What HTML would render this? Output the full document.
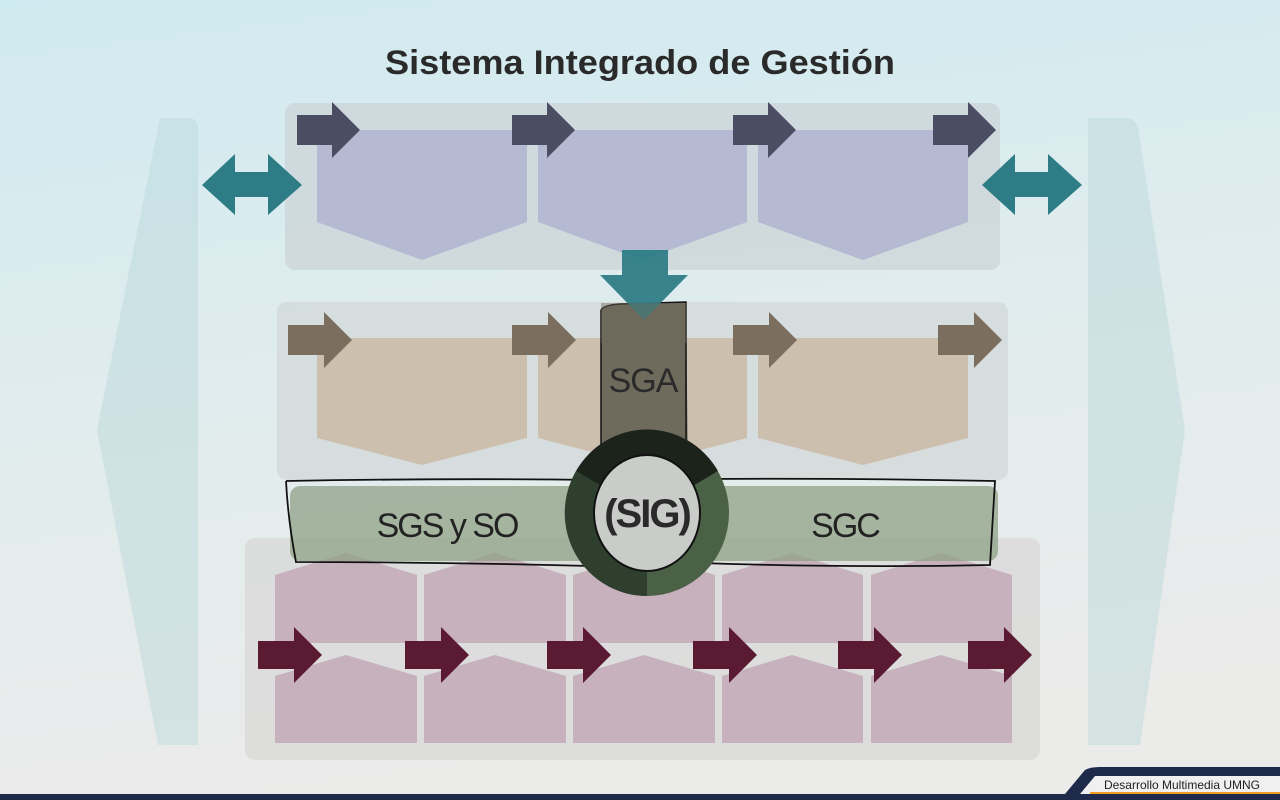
<!DOCTYPE html>
<html><head><meta charset="utf-8"><style>
html,body{margin:0;padding:0;width:1280px;height:800px;overflow:hidden}
svg{display:block}
</style></head><body>
<svg width="1280" height="800" viewBox="0 0 1280 800" xmlns="http://www.w3.org/2000/svg">
<defs>
<linearGradient id="bg" x1="0" y1="0" x2="0.2" y2="1">
<stop offset="0" stop-color="#cfeaf0"/>
<stop offset="0.45" stop-color="#dfecee"/>
<stop offset="1" stop-color="#ebebea"/>
</linearGradient>
</defs>
<rect width="1280" height="800" fill="url(#bg)"/>
<!-- side panels -->
<path d="M160,118 H188 Q198,118 198,128 V745 H158 L97,430 Z" fill="#b7d6da" opacity="0.45"/>
<path d="M1088,118 H1125 Q1135,118 1138,128 L1185,430 L1140,745 H1088 Z" fill="#b7d6da" opacity="0.45"/>
<text x="640" y="74" text-anchor="middle" font-family="Liberation Sans, sans-serif" font-weight="bold" font-size="34" fill="#2a2a2a" textLength="510" lengthAdjust="spacingAndGlyphs">Sistema Integrado de Gestión</text>
<!-- top band -->
<rect x="285" y="103" width="715" height="167" rx="10" fill="#c8cfd2" opacity="0.6"/>
<g fill="#b5b9d1">
<path d="M317,130 H527 V222 L422,260 L317,222 Z"/>
<path d="M538,130 H747 V222 L642,260 L538,222 Z"/>
<path d="M758,130 H968 V222 L863,260 L758,222 Z"/>
</g>
<g fill="#4b4d62">
<path d="M297,115 h35 v-13 l28,28 l-28,28 v-13 h-35 z"/>
<path d="M512,115 h35 v-13 l28,28 l-28,28 v-13 h-35 z"/>
<path d="M733,115 h35 v-13 l28,28 l-28,28 v-13 h-35 z"/>
<path d="M933,115 h35 v-13 l28,28 l-28,28 v-13 h-35 z"/>
</g>
<g fill="#2e7d86">
<path d="M202,185 L235,154 V172 H268 V154 L302,185 L268,215 V197 H235 V215 Z"/>
<path d="M982,185 L1015,154 V172 H1048 V154 L1082,185 L1048,215 V197 H1015 V215 Z"/>
</g>
<!-- middle band -->
<rect x="277" y="302" width="731" height="178" rx="10" fill="#cfd3d3" opacity="0.6"/>
<g fill="#cdbfae">
<path d="M317,338 H527 V438 L422,465 L317,438 Z"/>
<path d="M538,338 H747 V438 L642,465 L538,438 Z"/>
<path d="M758,338 H968 V438 L863,465 L758,438 Z"/>
</g>
<g fill="#7b6e5e">
<path d="M288,325 h36 v-13 l28,28 l-28,28 v-13 h-36 z"/>
<path d="M512,325 h36 v-13 l28,28 l-28,28 v-13 h-36 z"/>
<path d="M733,325 h36 v-13 l28,28 l-28,28 v-13 h-36 z"/>
<path d="M938,325 h36 v-13 l28,28 l-28,28 v-13 h-36 z"/>
</g>
<!-- SGA -->
<path d="M601,310 Q604,305 620,304 L686,302 L688,470 L601,470 Z" fill="#6e6a5c"/>
<path d="M601,310 Q604,305 620,304 L686,302 L686,470 M601,310 L601,470" fill="none" stroke="#111" stroke-width="1.5"/>
<path d="M622,250 H668 V275 H688 L644,320 L600,275 H622 Z" fill="#2e7d86" opacity="0.95"/>
<rect x="601" y="303" width="86" height="40" fill="#6e6a5c" opacity="0.45"/>
<text x="643" y="392" text-anchor="middle" font-family="Liberation Sans, sans-serif" font-size="34" fill="#2a2a2a" letter-spacing="-1">SGA</text>
<!-- bottom band -->
<rect x="245" y="538" width="795" height="222" rx="10" fill="#d7d7d5" opacity="0.7"/>
<g fill="#c6b1bd">
<path d="M275,575 L346,553 L417,575 V643 H275 Z"/>
<path d="M424,575 L495,553 L566,575 V643 H424 Z"/>
<path d="M573,575 L644,553 L715,575 V643 H573 Z"/>
<path d="M722,575 L792,553 L863,575 V643 H722 Z"/>
<path d="M871,575 L941,553 L1012,575 V643 H871 Z"/>
<path d="M275,676 L346,655 L417,676 V743 H275 Z"/>
<path d="M424,676 L495,655 L566,676 V743 H424 Z"/>
<path d="M573,676 L644,655 L715,676 V743 H573 Z"/>
<path d="M722,676 L792,655 L863,676 V743 H722 Z"/>
<path d="M871,676 L941,655 L1012,676 V743 H871 Z"/>
</g>
<g fill="#5a1a31">
<path d="M258,641 h36 v-14 l28,28 l-28,28 v-14 h-36 z"/>
<path d="M405,641 h36 v-14 l28,28 l-28,28 v-14 h-36 z"/>
<path d="M547,641 h36 v-14 l28,28 l-28,28 v-14 h-36 z"/>
<path d="M693,641 h36 v-14 l28,28 l-28,28 v-14 h-36 z"/>
<path d="M838,641 h36 v-14 l28,28 l-28,28 v-14 h-36 z"/>
<path d="M968,641 h36 v-14 l28,28 l-28,28 v-14 h-36 z"/>
</g>
<!-- green band -->
<rect x="290" y="486" width="708" height="75" rx="10" fill="#8fa185" opacity="0.75"/>
<path d="M286,481 Q450,478 600,480 M700,479 Q850,478 995,481 Q992,530 990,565 Q850,568 700,563 M590,566 Q440,562 296,562 Q288,520 286,481" fill="none" stroke="#111" stroke-width="1.8"/>
<text x="447" y="537" text-anchor="middle" font-family="Liberation Sans, sans-serif" font-size="34" fill="#222" letter-spacing="-2">SGS y SO</text>
<text x="845" y="537" text-anchor="middle" font-family="Liberation Sans, sans-serif" font-size="34" fill="#222" letter-spacing="-2">SGC</text>
<!-- SIG circle -->
<g transform="translate(647,513)">
<ellipse rx="82" ry="83" fill="#4a6146"/>
<path d="M0,0 L-71,-42 A82,83 0 0 1 71,-42 Z" fill="#1b231b"/>
<path d="M0,0 L-71,-42 A82,83 0 0 0 0,83 Z" fill="#2f3f2e"/>
<ellipse rx="53" ry="58" fill="#c9ccc8" stroke="#111" stroke-width="2"/>
<text x="0" y="14" text-anchor="middle" font-family="Liberation Sans, sans-serif" font-weight="bold" font-size="40" fill="#2a2a2a" letter-spacing="-2">(SIG)</text>
</g>
<!-- footer -->
<path d="M1060,800 L1085,770 Q1090,767 1100,767 H1280 V800 Z" fill="#1e2a4a"/>
<path d="M1075,800 L1095,776 H1280 V793 Z" fill="#f0f0f0"/>
<rect x="1090" y="792" width="190" height="3" fill="#f2a024"/>
<rect x="0" y="794" width="1280" height="6" fill="#1e2a4a"/>
<text x="1182" y="789" text-anchor="middle" font-family="Liberation Sans, sans-serif" font-size="12" fill="#222">Desarrollo Multimedia UMNG</text>
</svg>
</body></html>
